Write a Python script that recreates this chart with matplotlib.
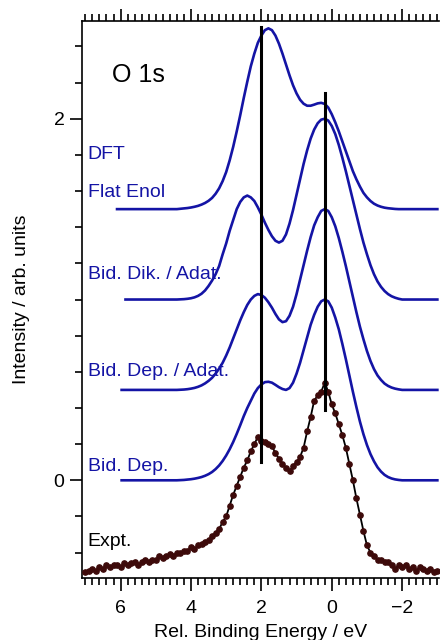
import numpy as np
import matplotlib.pyplot as plt
from matplotlib.ticker import MultipleLocator

plt.rcParams['font.family'] = ['Liberation Sans', 'DejaVu Sans']

# DFT simulated spectra, sampled on a common energy grid (eV),
# intensity relative to each curve's own baseline
dft_e = np.round(np.arange(4.4, -2.05, -0.1), 1)

flat_enol_i = [0.000, 0.002, 0.004, 0.006, 0.009, 0.013, 0.018, 0.025, 0.034, 0.046,
               0.062, 0.085, 0.115, 0.155, 0.205, 0.27, 0.345, 0.43, 0.52, 0.615,
               0.705, 0.79, 0.86, 0.92, 0.96, 0.99, 1.0, 0.99, 0.96, 0.915,
               0.86, 0.80, 0.74, 0.685, 0.64, 0.605, 0.583, 0.572, 0.572, 0.578,
               0.585, 0.588, 0.582, 0.562, 0.525, 0.48, 0.43, 0.375, 0.32, 0.265,
               0.21, 0.165, 0.125, 0.09, 0.065, 0.045, 0.03, 0.02, 0.013, 0.008,
               0.005, 0.003, 0.001, 0.0, 0.0]

bid_dik_i = [0.0, 0.001, 0.002, 0.004, 0.007, 0.012, 0.02, 0.032, 0.05, 0.075,
             0.105, 0.14, 0.185, 0.25, 0.31, 0.38, 0.44, 0.50, 0.54, 0.565,
             0.575, 0.565, 0.545, 0.51, 0.47, 0.425, 0.385, 0.35, 0.325, 0.315,
             0.325, 0.36, 0.42, 0.495, 0.58, 0.665, 0.75, 0.825, 0.89, 0.94,
             0.975, 0.995, 1.0, 0.99, 0.96, 0.915, 0.855, 0.785, 0.71, 0.63,
             0.55, 0.47, 0.39, 0.315, 0.25, 0.19, 0.14, 0.10, 0.07, 0.047,
             0.03, 0.018, 0.01, 0.004, 0.0]

bid_dep_adat_i = [0.0, 0.001, 0.002, 0.004, 0.007, 0.011, 0.017, 0.025, 0.036, 0.05,
                  0.067, 0.09, 0.118, 0.15, 0.19, 0.235, 0.285, 0.335, 0.385, 0.43,
                  0.47, 0.50, 0.52, 0.53, 0.525, 0.51, 0.485, 0.455, 0.42, 0.39,
                  0.375, 0.38, 0.41, 0.46, 0.53, 0.61, 0.69, 0.77, 0.845, 0.91,
                  0.955, 0.99, 1.0, 0.99, 0.955, 0.905, 0.84, 0.765, 0.685, 0.60,
                  0.515, 0.43, 0.35, 0.28, 0.215, 0.16, 0.115, 0.08, 0.055, 0.035,
                  0.022, 0.013, 0.007, 0.003, 0.0]

bid_dep_i = [0.0, 0.001, 0.002, 0.004, 0.006, 0.009, 0.013, 0.018, 0.025, 0.034,
             0.046, 0.062, 0.082, 0.107, 0.137, 0.172, 0.212, 0.257, 0.305, 0.355,
             0.40, 0.44, 0.48, 0.51, 0.53, 0.543, 0.545, 0.54, 0.528, 0.515,
             0.505, 0.50, 0.51, 0.54, 0.59, 0.65, 0.72, 0.79, 0.86, 0.915,
             0.96, 0.99, 1.0, 0.99, 0.955, 0.90, 0.835, 0.755, 0.67, 0.58,
             0.49, 0.405, 0.325, 0.255, 0.195, 0.145, 0.105, 0.072, 0.048, 0.03,
             0.018, 0.01, 0.005, 0.002, 0.0]

dft_labels = ["Flat Enol", "Bid. Dik. / Adat.", "Bid. Dep. / Adat.", "Bid. Dep."]
dft_offsets = [1.5, 1.0, 0.5, 0.0]
dft_start = [6.1, 5.86, 5.97, 5.97]   # where each flat baseline begins
dft_end = -3.0

# experimental O 1s spectrum
expt_e = np.round(np.arange(7.0, -3.05, -0.1), 1)
expt_i = [-0.51, -0.50, -0.49, -0.50, -0.48, -0.49, -0.47, -0.48, -0.47, -0.47,
          -0.48, -0.46, -0.47, -0.46, -0.45, -0.47, -0.45, -0.44, -0.45, -0.44,
          -0.44, -0.42, -0.43, -0.42, -0.41, -0.42, -0.40, -0.40, -0.39, -0.39,
          -0.37, -0.38, -0.36, -0.35, -0.34, -0.33, -0.31, -0.29, -0.27, -0.23,
          -0.20, -0.14, -0.08, -0.03, 0.02, 0.07, 0.11, 0.16, 0.20, 0.24,
          0.22, 0.21, 0.20, 0.19, 0.15, 0.12, 0.09, 0.07, 0.05, 0.08,
          0.10, 0.13, 0.18, 0.27, 0.35, 0.44, 0.47, 0.49, 0.54, 0.49,
          0.42, 0.37, 0.31, 0.25, 0.18, 0.09, 0.00, -0.10, -0.19, -0.28,
          -0.36, -0.40, -0.42, -0.44, -0.44, -0.45, -0.45, -0.47, -0.49, -0.47,
          -0.48, -0.47, -0.49, -0.48, -0.50, -0.48, -0.49, -0.50, -0.49, -0.51,
          -0.50]

# reference lines: (energy, bottom, top)
ref_lines = [(2.02, 0.10, 2.51), (0.2, 0.39, 2.14)]

blue = '#1414a5'

fig = plt.figure(figsize=(4.4, 6.4), dpi=100)
ax = fig.add_axes([0.186, 0.097, 0.812, 0.870])

curves = [flat_enol_i, bid_dik_i, bid_dep_adat_i, bid_dep_i]
for vals, off, x0 in zip(curves, dft_offsets, dft_start):
    e = np.concatenate([[x0], dft_e, [dft_end]])
    y = np.concatenate([[0.0], vals, [0.0]]) + off
    ax.plot(e, y, color=blue, lw=1.9)

ax.plot(expt_e, expt_i, color='black', lw=1.3, marker='o', ms=3.8,
        mfc='#3d0a0a', mec='#3d0a0a', zorder=3)

for x, y0, y1 in ref_lines:
    ax.plot([x, x], [y0, y1], color='black', lw=2.2, zorder=4)

# labels
ax.text(6.93, 1.80, "DFT", color=blue, fontsize=14, va='center')
label_y = [1.59, 1.14, 0.60, 0.077]
for lab, y in zip(dft_labels, label_y):
    ax.text(6.93, y, lab, color=blue, fontsize=14, va='center')
ax.text(6.93, -0.34, "Expt.", color='black', fontsize=14, va='center')
ax.text(6.23, 2.24, "O 1s", color='black', fontsize=18, va='center')

ax.set_xlim(7.1, -3.05)
ax.set_ylim(-0.54, 2.54)
ax.xaxis.set_major_locator(MultipleLocator(2))
ax.xaxis.set_minor_locator(MultipleLocator(0.2))
ax.yaxis.set_major_locator(MultipleLocator(2))
ax.yaxis.set_minor_locator(MultipleLocator(0.2))
ax.tick_params(axis='both', which='both', direction='out', width=1.2, labelsize=14)
ax.tick_params(axis='both', which='major', length=9)
ax.tick_params(axis='both', which='minor', length=5)
ax.tick_params(axis='x', which='both', top=True, labeltop=False, pad=7)
ax.spines['right'].set_visible(False)
for s in ['left', 'bottom', 'top']:
    ax.spines[s].set_linewidth(1.2)

ax.set_xlabel("Rel. Binding Energy / eV", fontsize=14, labelpad=5)
ax.set_ylabel("Intensity / arb. units", fontsize=14)
ax.yaxis.set_label_coords(-0.146, 0.5)

fig.savefig("out.png", dpi=100)
